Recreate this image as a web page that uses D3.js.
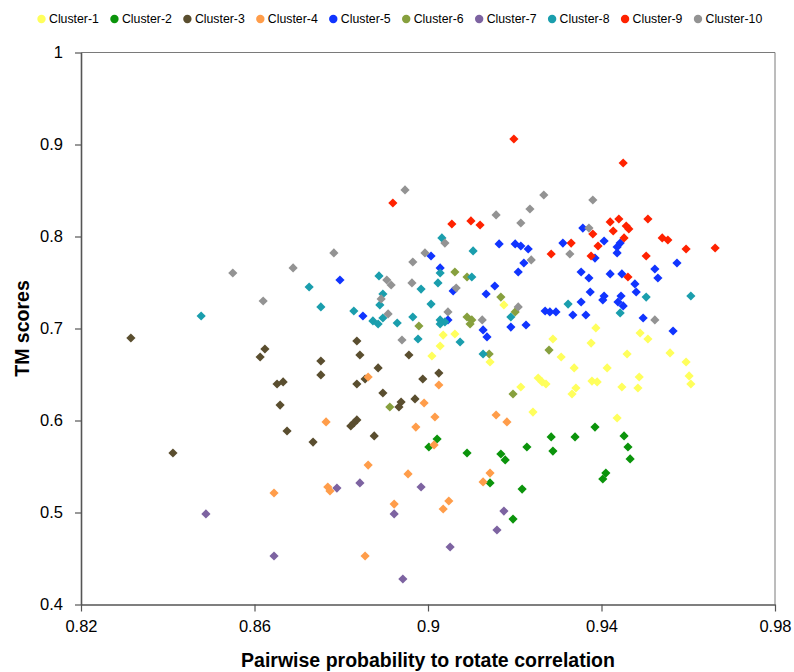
<!DOCTYPE html>
<html>
<head>
<meta charset="utf-8">
<script src="https://cdn.jsdelivr.net/npm/d3@7"></script>
<style>
  body { margin: 0; background: #fff; }
  svg { display: block; }
  text { font-family: "Liberation Sans", Arial, sans-serif; fill: #000; }
</style>
</head>
<body>
<svg id="chart" width="794" height="672"></svg>
<script>
// Pairwise probability to rotate correlation (x) vs TM score (y), per cluster
const clusterNames = ["Cluster-1", "Cluster-2", "Cluster-3", "Cluster-4", "Cluster-5",
                      "Cluster-6", "Cluster-7", "Cluster-8", "Cluster-9", "Cluster-10"];
const clusterColors = ["#FFFF5C", "#0B940B", "#5A4E2F", "#FF9D4A", "#1034FF",
                       "#87A03E", "#7D63A1", "#1A9EAD", "#FF2200", "#939393"];

const cluster1 = [
  [0.9009, 0.6701], [0.9028, 0.6810], [0.9035, 0.6929], [0.9062, 0.6940], [0.9175, 0.7256],
  [0.9143, 0.6636], [0.9288, 0.6886], [0.9376, 0.6842], [0.9387, 0.7006], [0.9489, 0.6951],
  [0.9507, 0.6886], [0.9307, 0.6690], [0.9459, 0.6723], [0.9558, 0.6734], [0.9595, 0.6636],
  [0.9602, 0.6484], [0.9606, 0.6397], [0.9337, 0.6571], [0.9413, 0.6571], [0.9487, 0.6473],
  [0.9484, 0.6353], [0.9447, 0.6364], [0.9378, 0.6429], [0.9390, 0.6419], [0.9341, 0.6353],
  [0.9332, 0.6288], [0.9254, 0.6462], [0.9263, 0.6419], [0.9272, 0.6397], [0.9214, 0.6364],
  [0.9242, 0.6092], [0.9436, 0.6027]
];
const cluster2 = [
  [0.9021, 0.5799], [0.9002, 0.5712], [0.9090, 0.5647], [0.9143, 0.5321], [0.9217, 0.5255],
  [0.9196, 0.4929], [0.9168, 0.5636], [0.9178, 0.5571], [0.9228, 0.5712], [0.9288, 0.5668],
  [0.9284, 0.5821], [0.9339, 0.5821], [0.9385, 0.5929], [0.9452, 0.5832], [0.9461, 0.5712],
  [0.9466, 0.5582], [0.9410, 0.5429], [0.9403, 0.5364]
];
const cluster3 = [
  [0.8315, 0.6897], [0.8624, 0.6777], [0.8613, 0.6690], [0.8652, 0.6397], [0.8666, 0.6419],
  [0.8659, 0.6168], [0.8412, 0.5647], [0.8836, 0.6864], [0.8843, 0.6712], [0.8753, 0.6647],
  [0.8753, 0.6495], [0.8885, 0.6571], [0.8855, 0.6451], [0.8836, 0.6397], [0.8896, 0.6299],
  [0.8956, 0.6712], [0.8988, 0.6451], [0.9025, 0.6516], [0.8938, 0.6201], [0.8933, 0.6147],
  [0.8970, 0.6234], [0.8675, 0.5886], [0.8735, 0.5766], [0.8836, 0.6006], [0.8829, 0.5973],
  [0.8822, 0.5940], [0.8876, 0.5832]
];
const cluster4 = [
  [0.8645, 0.5212], [0.8862, 0.6473], [0.9025, 0.6386], [0.8991, 0.6190], [0.9016, 0.6038],
  [0.8972, 0.5929], [0.8765, 0.5984], [0.9014, 0.5734], [0.8862, 0.5516], [0.8954, 0.5419],
  [0.8769, 0.5277], [0.8774, 0.5234], [0.8922, 0.5092], [0.9048, 0.5125], [0.9035, 0.5038],
  [0.8855, 0.4527], [0.9127, 0.5332], [0.9143, 0.5429], [0.9157, 0.6060], [0.9182, 0.5984]
];
const cluster5 = [
  [0.8797, 0.7527], [0.8850, 0.7136], [0.9007, 0.7788], [0.9028, 0.7658], [0.9058, 0.7408],
  [0.9046, 0.7093], [0.9134, 0.7375], [0.9154, 0.7462], [0.9127, 0.6984], [0.9136, 0.6908],
  [0.9164, 0.7919], [0.9201, 0.7919], [0.9214, 0.7897], [0.9231, 0.7864], [0.9221, 0.7712],
  [0.9208, 0.7614], [0.9191, 0.7016], [0.9226, 0.7038], [0.9270, 0.7190], [0.9281, 0.7180],
  [0.9295, 0.7180], [0.9334, 0.7147], [0.9364, 0.7147], [0.9311, 0.7929], [0.9357, 0.8092],
  [0.9385, 0.7766], [0.9406, 0.7951], [0.9436, 0.7821], [0.9443, 0.7929], [0.9436, 0.7886],
  [0.9353, 0.7614], [0.9371, 0.7549], [0.9420, 0.7593], [0.9447, 0.7593], [0.9523, 0.7647],
  [0.9530, 0.7549], [0.9477, 0.7484], [0.9480, 0.7397], [0.9374, 0.7397], [0.9406, 0.7353],
  [0.9403, 0.7310], [0.9445, 0.7353], [0.9438, 0.7288], [0.9450, 0.7245], [0.9353, 0.7288],
  [0.9496, 0.7114], [0.9574, 0.7712], [0.9565, 0.6973]
];
const cluster6 = [
  [0.9062, 0.7614], [0.9090, 0.7560], [0.8912, 0.6147], [0.8979, 0.7027], [0.9090, 0.7125],
  [0.9101, 0.7093], [0.9097, 0.7049], [0.9168, 0.7342], [0.9201, 0.7180], [0.9141, 0.6723],
  [0.9279, 0.6766], [0.9196, 0.6288]
];
const cluster7 = [
  [0.8488, 0.4984], [0.8645, 0.4527], [0.8790, 0.5266], [0.8843, 0.5321], [0.8984, 0.5277],
  [0.8922, 0.4984], [0.9051, 0.4625], [0.8942, 0.4277], [0.9175, 0.5016], [0.9159, 0.4810]
];
const cluster8 = [
  [0.8477, 0.7136], [0.8726, 0.7451], [0.8753, 0.7234], [0.8829, 0.7190], [0.8887, 0.7571],
  [0.8896, 0.7375], [0.8889, 0.7256], [0.8873, 0.7082], [0.8885, 0.7049], [0.8896, 0.7114],
  [0.8929, 0.7060], [0.8965, 0.7125], [0.8984, 0.7429], [0.9007, 0.7266], [0.8977, 0.6886],
  [0.9023, 0.7495], [0.9028, 0.7603], [0.9032, 0.7984], [0.9028, 0.7093], [0.9039, 0.7071],
  [0.9028, 0.7049], [0.9074, 0.6853], [0.9104, 0.7843], [0.9101, 0.7560], [0.9127, 0.6723],
  [0.9191, 0.7125], [0.9323, 0.7266], [0.9443, 0.7169], [0.9503, 0.7342], [0.9606, 0.7353]
];
const cluster9 = [
  [0.8919, 0.8364], [0.9055, 0.8136], [0.9099, 0.8169], [0.9120, 0.8125], [0.9198, 0.9060],
  [0.9450, 0.8799], [0.9420, 0.8158], [0.9440, 0.8190], [0.9507, 0.8190], [0.9380, 0.8027],
  [0.9427, 0.8060], [0.9457, 0.8114], [0.9463, 0.8082], [0.9452, 0.7984], [0.9330, 0.7929],
  [0.9392, 0.7897], [0.9540, 0.7984], [0.9553, 0.7962], [0.9595, 0.7864], [0.9662, 0.7875],
  [0.9284, 0.7810], [0.9376, 0.7788], [0.9503, 0.7788], [0.9461, 0.7560]
];
const cluster10 = [
  [0.8550, 0.7603], [0.8620, 0.7299], [0.8689, 0.7658], [0.8783, 0.7821], [0.8947, 0.8506],
  [0.8965, 0.7723], [0.8993, 0.7821], [0.9039, 0.7929], [0.8905, 0.7527], [0.8915, 0.7473],
  [0.8963, 0.7495], [0.8892, 0.7321], [0.8908, 0.7158], [0.9065, 0.7440], [0.9046, 0.7180],
  [0.9125, 0.7093], [0.8940, 0.6875], [0.9157, 0.8234], [0.9235, 0.8299], [0.9267, 0.8451],
  [0.9214, 0.8147], [0.9380, 0.8397], [0.9371, 0.8092], [0.9327, 0.7810], [0.9238, 0.7745],
  [0.9208, 0.7234], [0.9523, 0.7093]
];
const clusters = [cluster1, cluster2, cluster3, cluster4, cluster5,
                  cluster6, cluster7, cluster8, cluster9, cluster10];

const xTicks = [0.82, 0.86, 0.90, 0.94, 0.98];
const xTickLabels = ["0.82", "0.86", "0.9", "0.94", "0.98"];
const yTicks = [0.4, 0.5, 0.6, 0.7, 0.8, 0.9, 1.0];
const yTickLabels = ["0.4", "0.5", "0.6", "0.7", "0.8", "0.9", "1"];

const xTitle = "Pairwise probability to rotate correlation";
const yTitle = "TM scores";

// ---- layout ----
const svg = d3.select("#chart");
const plot = { left: 81, right: 775, top: 52.5, bottom: 604.5 };

const x = d3.scaleLinear().domain([0.82, 0.98]).range([plot.left, plot.right]);
const y = d3.scaleLinear().domain([0.4, 1.0]).range([plot.bottom, plot.top]);

// thin frame on the top and right of the plot area
svg.append("path")
  .attr("d", `M${plot.left},${plot.top}H${plot.right}V${plot.bottom}`)
  .attr("fill", "none").attr("stroke", "#7a7a7a").attr("stroke-width", 1);

// x axis
const xAxis = svg.append("g")
  .attr("transform", `translate(0,${plot.bottom})`)
  .call(d3.axisBottom(x).tickValues(xTicks)
    .tickFormat((d, i) => xTickLabels[i]).tickSize(7).tickSizeOuter(0).tickPadding(9));
xAxis.select(".domain").attr("stroke", "#555").attr("stroke-width", 1.6);
xAxis.selectAll(".tick line").attr("stroke", "#555").attr("stroke-width", 1.2);
xAxis.selectAll(".tick text")
  .style("font-family", '"Liberation Sans", Arial, sans-serif')
  .style("font-size", "16.5px").attr("fill", "#000");

// y axis
const yAxis = svg.append("g")
  .attr("transform", `translate(${plot.left},0)`)
  .call(d3.axisLeft(y).tickValues(yTicks)
    .tickFormat((d, i) => yTickLabels[i]).tickSize(6).tickSizeOuter(0).tickPadding(12));
yAxis.select(".domain").attr("stroke", "#555").attr("stroke-width", 1.6);
yAxis.selectAll(".tick line").attr("stroke", "#555").attr("stroke-width", 1.2);
yAxis.selectAll(".tick text")
  .style("font-family", '"Liberation Sans", Arial, sans-serif')
  .style("font-size", "16.5px").attr("fill", "#000");

// axis titles
svg.append("text")
  .attr("x", (plot.left + plot.right) / 2).attr("y", 667)
  .attr("text-anchor", "middle")
  .style("font-size", "19.5px").style("font-weight", "bold")
  .text(xTitle);

svg.append("text")
  .attr("transform", `translate(29,${(plot.top + plot.bottom) / 2}) rotate(-90)`)
  .attr("text-anchor", "middle")
  .style("font-size", "19.5px").style("font-weight", "bold")
  .text(yTitle);

// square diamond marker (a square turned 45 degrees)
const diamond = {
  draw(ctx, size) {
    const r = Math.sqrt(size / 2);
    ctx.moveTo(0, -r); ctx.lineTo(r, 0); ctx.lineTo(0, r); ctx.lineTo(-r, 0); ctx.closePath();
  }
};
const marker = d3.symbol().type(diamond).size(2 * 4.6 * 4.6);

// points, one group per cluster, drawn in series order
const series = svg.append("g");
clusters.forEach((pts, i) => {
  series.append("g")
    .attr("fill", clusterColors[i])
    .selectAll("path")
    .data(pts)
    .join("path")
      .attr("transform", d => `translate(${x(d[0])},${y(d[1])})`)
      .attr("d", marker);
});

// legend across the top
const legendX = d3.scaleLinear().domain([0, 9]).range([41.5, 698]);
const legend = svg.append("g").attr("transform", "translate(0,19)");
const items = legend.selectAll("g")
  .data(clusterNames)
  .join("g")
    .attr("transform", (d, i) => `translate(${legendX(i)},0)`);
items.append("circle").attr("r", 4.2).attr("fill", (d, i) => clusterColors[i]);
items.append("text")
  .attr("x", 7.5).attr("dy", "0.36em")
  .style("font-size", "12.3px")
  .text(d => d);
</script>
</body>
</html>
